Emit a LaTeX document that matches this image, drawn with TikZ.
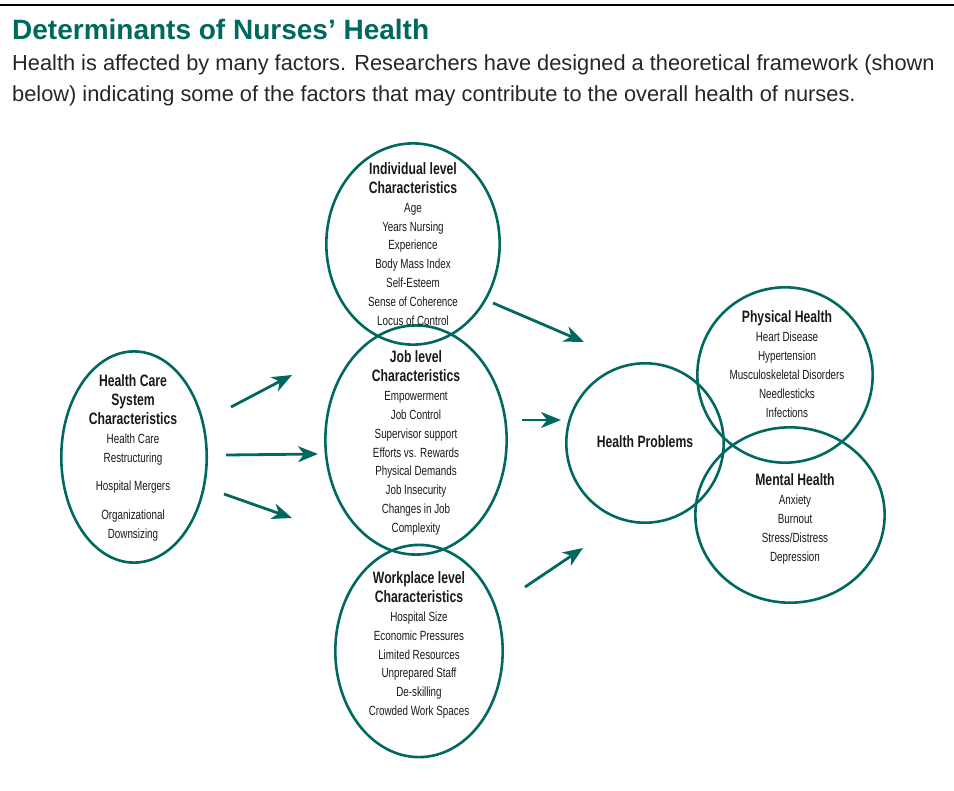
\documentclass[tikz,border=0pt]{standalone}
\usepackage{fontspec}
\setmainfont{Liberation Sans}
\newfontfamily\narrowfont[FakeStretch=0.74]{Liberation Sans}
\usetikzlibrary{shapes.geometric,arrows.meta}
\definecolor{nurseteal}{RGB}{0,104,94}
\newcommand\head[1]{{\fontsize{16.5bp}{18.9bp}\selectfont\bfseries #1}}

\begin{document}
\begin{tikzpicture}[x=1bp, y=-1bp,
  factor/.style={ellipse, draw=nurseteal, line width=2.6bp, inner sep=0pt},
  factortext/.style={align=center, inner sep=0pt, text=black!90,
    font=\narrowfont\fontsize{13.3bp}{18.9bp}\selectfont},
  link/.style={draw=nurseteal, line width=2.8bp,
    -{Stealth[length=20bp,width=16bp,inset=6bp]}}]
  \useasboundingbox (0,0) rectangle (954,791);
  \draw[line width=2.2bp] (0,5) -- (954,5);

  % heading
  \node[anchor=base west, inner sep=0pt, text=nurseteal,
    font=\fontsize{28bp}{30bp}\selectfont\bfseries] (title) at (12,40)
    {Determinants of Nurses’ Health};
  \node[anchor=base west, inner sep=0pt, text=black!85,
    font=\fontsize{21.8bp}{30bp}\selectfont] (intro1) at (12,71)
    {Health is affected by many factors. Researchers have designed a theoretical framework (shown};
  \node[anchor=base west, inner sep=0pt, text=black!85,
    font=\fontsize{21.8bp}{30bp}\selectfont] (intro2) at (12,101)
    {below) indicating some of the factors that may contribute to the overall health of nurses.};

  % ellipses
  \node[factor, minimum width=146, minimum height=212] (system) at (134,457) {};
  \node[factor, minimum width=174, minimum height=202] (indiv) at (413,244) {};
  \node[factor, minimum width=182, minimum height=230] (job) at (416,440) {};
  \node[factor, minimum width=168, minimum height=213] (work) at (419,651) {};
  \node[factor, minimum width=158, minimum height=160] (probs) at (645,443) {};
  \node[factor, minimum width=176, minimum height=176] (phys) at (785,375) {};
  \node[factor, minimum width=190, minimum height=176] (mental) at (790,515) {};

  % texts
  \node[factortext] (system-text) at (133,458)
    {\head{Health Care}\\ \head{System}\\ \head{Characteristics}\\
     Health Care\\ Restructuring\\[10bp] Hospital Mergers\\[10bp]
     Organizational\\ Downsizing};
  \node[factortext] (indiv-text) at (413,244)
    {\head{Individual level}\\ \head{Characteristics}\\ Age\\ Years Nursing\\
     Experience\\ Body Mass Index\\ Self-Esteem\\ Sense of Coherence\\
     Locus of Control};
  \node[factortext] (job-text) at (416,443)
    {\head{Job level}\\ \head{Characteristics}\\ Empowerment\\ Job Control\\
     Supervisor support\\ Efforts vs. Rewards\\ Physical Demands\\
     Job Insecurity\\ Changes in Job\\ Complexity};
  \node[factortext] (work-text) at (419,645)
    {\head{Workplace level}\\ \head{Characteristics}\\ Hospital Size\\
     Economic Pressures\\ Limited Resources\\ Unprepared Staff\\
     De-skilling\\ Crowded Work Spaces};
  \node[factortext] (probs-text) at (645,442) {\head{Health Problems}};
  \node[factortext] (phys-text) at (787,364)
    {\head{Physical Health}\\ Heart Disease\\ Hypertension\\
     Musculoskeletal Disorders\\ Needlesticks\\ Infections};
  \node[factortext] (mental-text) at (795,519)
    {\head{Mental Health}\\ Anxiety\\ Burnout\\ Stress/Distress\\ Depression};

  % arrows
  \coordinate (system-out1) at (231,407);
  \coordinate (system-out2) at (226,455);
  \coordinate (system-out3) at (224,494);
  \coordinate (indiv-in) at (292,375);
  \coordinate (job-in) at (318,454);
  \coordinate (work-in) at (292,518);
  \coordinate (indiv-out) at (493,303);
  \coordinate (job-out) at (522,420);
  \coordinate (work-out) at (525,587);
  \coordinate (probs-in1) at (584,342);
  \coordinate (probs-in2) at (561,420);
  \coordinate (probs-in3) at (583,548);
  \draw[link] (system-out1) -- (indiv-in);
  \draw[link] (system-out2) -- (job-in);
  \draw[link] (system-out3) -- (work-in);
  \draw[link] (indiv-out) -- (probs-in1);
  \draw[link] (job-out) -- (probs-in2);
  \draw[link] (work-out) -- (probs-in3);
\end{tikzpicture}
\end{document}
